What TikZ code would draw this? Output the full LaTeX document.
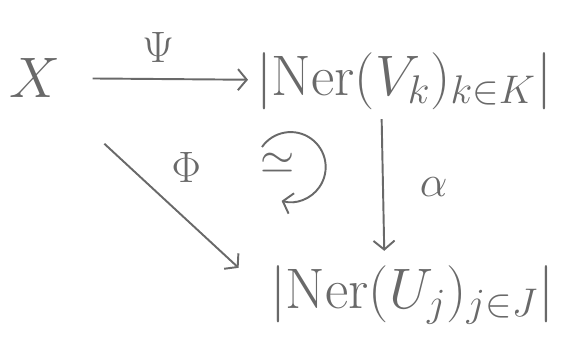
\RequirePackage{fix-cm}
\documentclass[tikz,border=0pt]{standalone}
\usepackage{amssymb}
\usetikzlibrary{arrows.meta, calc, positioning}
\definecolor{pencilgray}{RGB}{105,105,105}

\begin{document}
\begin{tikzpicture}[
    obj/.style={font=\fontsize{32.5}{38}\selectfont, text=pencilgray, inner sep=1pt},
    lbl/.style={font=\fontsize{25}{30}\selectfont, text=pencilgray},
    mapto/.style={-{Straight Barb[length=5pt,width=12pt]}, pencilgray, line width=1.1pt}
]
    % Canvas
    \useasboundingbox (0,0) rectangle (11.28,-6.98);

    % Objects
    \node[obj] (X) at (0.70,-1.56) {$X$};
    \node[obj] (nerV) at (8.08,-1.62) {$\bigl|\mathrm{Ner}(V_k)_{k\in K}\bigr|$};
    \node[obj] (nerU) at (8.24,-5.90) {$\bigl|\mathrm{Ner}(U_j)_{j\in J}\bigr|$};
    \node[lbl] (iso) at (5.56,-3.26) {$\simeq$};

    % Maps
    \draw[mapto, shorten <=0.6cm, shorten >=0.12cm] (X) -- node[lbl, above=0.2cm] (psi) {$\Psi$} (nerV);
    \draw[mapto, shorten <=1.3cm, shorten >=0.8cm] (X.-45) -- node[lbl, pos=0.5, above right=0.15cm and 0.05cm] (phi) {$\Phi$} (nerU.west);
    \draw[mapto, shorten <=0.15cm, shorten >=0.25cm] ([xshift=-0.45cm]nerV.south) -- node[lbl, right=0.6cm] (alpha) {$\alpha$} ([xshift=-0.55cm]nerU.north);

    % Commuting loop
    \draw[mapto] ([shift={(-0.32,0.32)}]iso.center) arc[start angle=145, end angle=-105, radius=0.7cm];

\end{tikzpicture}
\end{document}
